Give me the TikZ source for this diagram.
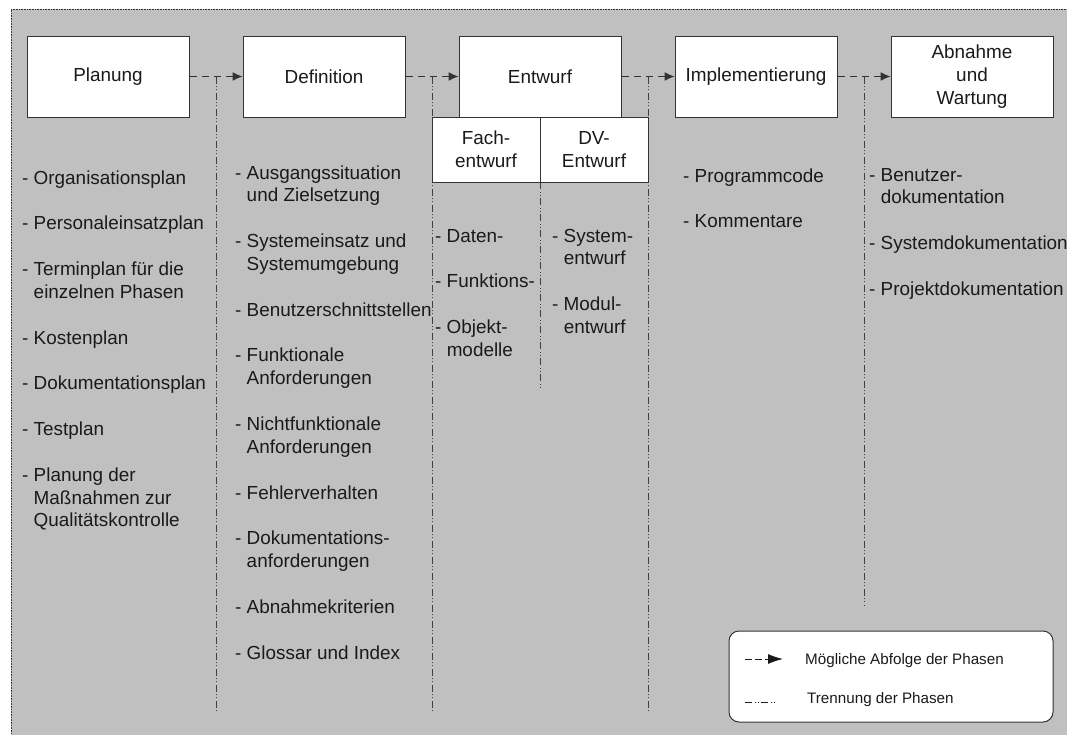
\documentclass[tikz,border=0pt]{standalone}
\usepackage{fontspec}
\setmainfont{Liberation Sans}
\usetikzlibrary{arrows.meta}

\definecolor{bggray}{HTML}{C0C0C0}
\definecolor{linegray}{HTML}{333333}
\definecolor{sepgray}{HTML}{404040}
\definecolor{txt}{HTML}{1A1A1A}

% text sizes: phase labels and lists, legend
\newcommand\lbl{\fontsize{18.9}{22.86}\selectfont}
\newcommand\lgd{\fontsize{15.2}{18}\selectfont}
% indent of a continued list line
\newcommand\cont{\hphantom{- }}

\begin{document}
\begin{tikzpicture}[x=1pt,y=-1pt,
  phase/.style={draw=linegray, line width=1pt, fill=white, minimum width=162pt,
    minimum height=81pt, inner sep=0pt, align=center, font=\lbl, text=txt},
  subphase/.style={draw=linegray, line width=1pt, fill=white, minimum width=108pt,
    minimum height=65pt, inner sep=0pt, align=center, font=\lbl, text=txt},
  flow/.style={draw=linegray, line width=1.1pt, dash pattern=on 7pt off 5pt,
    -{Latex[length=10pt,width=9pt]}},
  sep/.style={draw=sepgray, line width=1pt,
    dash pattern=on 7pt off 2.5pt on 1pt off 2pt on 1pt off 2.5pt},
  list/.style={anchor=base west, inner sep=0pt, font=\lbl, text=txt},
  legendtext/.style={anchor=base west, inner sep=0pt, font=\lgd, text=txt},
]
\useasboundingbox (0,0) rectangle (1067,734);
\fill[white] (0,0) rectangle (1067,734);

% grey drawing area with dotted frame
\fill[bggray] (11,9) rectangle (1080,745);
\draw[linegray, line width=0.8pt, dash pattern=on 0.8pt off 0.8pt]
  (11,745) -- (11,9) -- (1080,9);

% phase separators
\coordinate (s1t) at (216,76.5); \coordinate (s1b) at (216,712);
\coordinate (s2t) at (432,76.5); \coordinate (s2b) at (432,712);
\coordinate (s3t) at (648,76.5); \coordinate (s3b) at (648,712);
\coordinate (s4t) at (864,76.5); \coordinate (s4b) at (864,605);
\coordinate (s5t) at (540,182);  \coordinate (s5b) at (540,387);
\draw[sep] (s1t) -- (s1b);
\draw[sep] (s2t) -- (s2b);
\draw[sep] (s3t) -- (s3b);
\draw[sep] (s4t) -- (s4b);
\draw[sep] (s5t) -- (s5b);

% phases
\node[phase] (plan) at (108,76.5) {Planung};
\node[phase] (def)  at (324,76.5) {Definition};
\node[phase] (entw) at (540,76.5) {Entwurf};
\node[phase] (impl) at (756,76.5) {Implementierung};
\node[phase] (abn)  at (972,76.5) {Abnahme\\und\\Wartung};
\node[subphase] (fach) at (486,149.5) {Fach-\\entwurf};
\node[subphase] (dv)   at (594,149.5) {DV-\\Entwurf};

% sequence of phases
\draw[flow] (plan) -- (def);
\draw[flow] (def) -- (entw);
\draw[flow] (entw) -- (impl);
\draw[flow] (impl) -- (abn);

% results of each phase
\node[list] (planlist) at (22,184) {\begin{tabular}[t]{@{}l@{}}
- Organisationsplan\\ \\
- Personaleinsatzplan\\ \\
- Terminplan für die\\ \cont einzelnen Phasen\\ \\
- Kostenplan\\ \\
- Dokumentationsplan\\ \\
- Testplan\\ \\
- Planung der\\ \cont Maßnahmen zur\\ \cont Qualitätskontrolle
\end{tabular}};

\node[list] (deflist) at (235,179) {\begin{tabular}[t]{@{}l@{}}
- Ausgangssituation\\ \cont und Zielsetzung\\ \\
- Systemeinsatz und\\ \cont Systemumgebung\\ \\
- Benutzerschnittstellen\\ \\
- Funktionale\\ \cont Anforderungen\\ \\
- Nichtfunktionale\\ \cont Anforderungen\\ \\
- Fehlerverhalten\\ \\
- Dokumentations-\\ \cont anforderungen\\ \\
- Abnahmekriterien\\ \\
- Glossar und Index
\end{tabular}};

\node[list] (fachlist) at (435,242) {\begin{tabular}[t]{@{}l@{}}
- Daten-\\ \\
- Funktions-\\ \\
- Objekt-\\ \cont modelle
\end{tabular}};

\node[list] (dvlist) at (552,242) {\begin{tabular}[t]{@{}l@{}}
- System-\\ \cont entwurf\\ \\
- Modul-\\ \cont entwurf
\end{tabular}};

\node[list] (impllist) at (683,182) {\begin{tabular}[t]{@{}l@{}}
- Programmcode\\ \\
- Kommentare
\end{tabular}};

\node[list] (abnlist) at (869,181) {\begin{tabular}[t]{@{}l@{}}
- Benutzer-\\ \cont dokumentation\\ \\
- Systemdokumentation\\ \\
- Projektdokumentation
\end{tabular}};

% legend
\node[draw=linegray, line width=1pt, fill=white, rounded corners=10pt,
  minimum width=324pt, minimum height=91pt, inner sep=0pt] (legend) at (891,676.5) {};
\coordinate (la1) at (745,659); \coordinate (la2) at (783,659);
\coordinate (lb1) at (745,702); \coordinate (lb2) at (777,702);
\draw[draw=txt, line width=1pt, dash pattern=on 7pt off 3pt,
  -{Latex[length=15pt,width=10pt]}] (la1) -- (la2);
\draw[sep, draw=txt] (lb1) -- (lb2);
\node[legendtext] (lt1) at (805,664) {Mögliche Abfolge der Phasen};
\node[legendtext] (lt2) at (807,703) {Trennung der Phasen};
\end{tikzpicture}
\end{document}
